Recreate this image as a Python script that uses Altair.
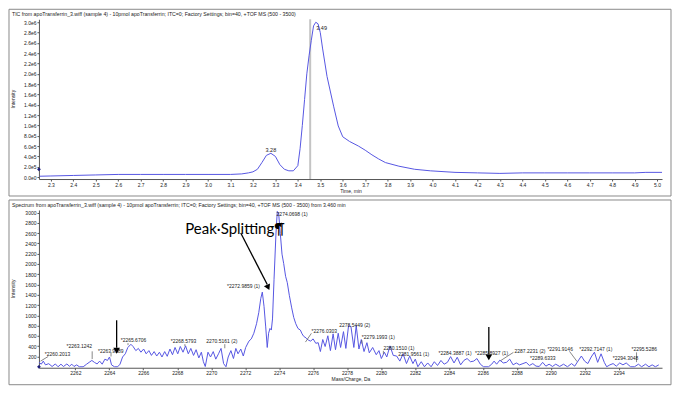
import altair as alt
import pandas as pd

# ---------------- data ----------------
tic_time = [2.25, 2.30, 2.40, 2.50, 2.60, 2.70, 2.80, 2.90, 3.00, 3.10, 3.15, 3.18, 3.20, 3.22,
            3.24, 3.26, 3.28, 3.30, 3.32, 3.34, 3.36, 3.38, 3.40, 3.41, 3.42, 3.43, 3.44, 3.45,
            3.46, 3.47, 3.48, 3.49, 3.50, 3.51, 3.53, 3.56, 3.58, 3.60, 3.63, 3.67, 3.70, 3.73,
            3.76, 3.79, 3.85, 3.92, 3.99, 4.10, 4.20, 4.30, 4.40, 4.50, 4.60, 4.70, 4.80, 4.90,
            4.95, 5.03]
tic_int = [15000, 20000, 30000, 40000, 50000, 50000, 50000, 50000, 50000, 50000, 60000, 80000,
           100000, 150000, 280000, 420000, 460000, 400000, 240000, 150000, 120000, 120000,
           220000, 550000, 1000000, 1500000, 2000000, 2350000, 2650000, 2930000, 3000000,
           2970000, 2800000, 2500000, 1950000, 1360000, 990000, 780000, 690000, 600000, 520000,
           430000, 350000, 280000, 210000, 150000, 120000, 90000, 80000, 70000, 80000, 80000,
           80000, 80000, 80000, 80000, 90000, 90000]

tic_ticks = [2.3, 2.4, 2.5, 2.6, 2.7, 2.8, 2.9, 3.0, 3.1, 3.2, 3.3, 3.4, 3.5, 3.6, 3.7, 3.8,
             3.9, 4.0, 4.1, 4.2, 4.3, 4.4, 4.5, 4.6, 4.7, 4.8, 4.9, 5.0]
tic_yticks = [0, 200000, 400000, 600000, 800000, 1000000, 1200000, 1400000, 1600000, 1800000,
              2000000, 2200000, 2400000, 2600000, 2800000, 3000000]
tic_peak_t = [3.28, 3.506]
tic_peak_i = [530000, 2890000]
tic_peak_txt = ["3.28", "3.49"]
cursor_t = [3.455]

spec_mz = [2259.76, 2259.86, 2259.99, 2260.11, 2260.24, 2260.43, 2260.63, 2260.82, 2260.98,
           2261.15, 2261.30, 2261.50, 2261.65, 2261.79, 2261.92, 2262.08, 2262.23, 2262.46,
           2262.66, 2262.81, 2262.97, 2263.12, 2263.28, 2263.43, 2263.58, 2263.74, 2263.89,
           2264.01, 2264.13, 2264.30, 2264.49, 2264.63, 2264.78, 2264.94, 2265.09, 2265.27,
           2265.40, 2265.56, 2265.71, 2265.86, 2266.02, 2266.17, 2266.33, 2266.48, 2266.64,
           2266.79, 2266.95, 2267.10, 2267.26, 2267.41, 2267.57, 2267.72, 2267.87, 2268.03,
           2268.18, 2268.34, 2268.49, 2268.65, 2268.80, 2268.96, 2269.11, 2269.27, 2269.42,
           2269.54, 2269.65, 2269.81, 2269.96, 2270.12, 2270.27, 2270.43, 2270.58, 2270.73,
           2270.87, 2271.00, 2271.16, 2271.31, 2271.45, 2271.58, 2271.74, 2271.89, 2272.03,
           2272.22, 2272.36, 2272.51, 2272.67, 2272.80, 2272.92, 2273.01, 2273.11, 2273.21,
           2273.30, 2273.38, 2273.46, 2273.54, 2273.61, 2273.70, 2273.81, 2273.89, 2273.97,
           2274.07, 2274.17, 2274.27, 2274.38, 2274.48, 2274.60, 2274.74, 2274.86, 2274.98,
           2275.11, 2275.25, 2275.35, 2275.45, 2275.59, 2275.72, 2275.86, 2276.00, 2276.16,
           2276.30, 2276.43, 2276.57, 2276.71, 2276.87, 2277.02, 2277.18, 2277.32, 2277.48,
           2277.62, 2277.79, 2277.93, 2278.09, 2278.23, 2278.40, 2278.54, 2278.70, 2278.84,
           2279.00, 2279.17, 2279.31, 2279.51, 2279.72, 2279.88, 2280.02, 2280.20, 2280.34,
           2280.53, 2280.72, 2280.92, 2281.11, 2281.30, 2281.50, 2281.69, 2281.88, 2282.02,
           2282.17, 2282.37, 2282.56, 2282.75, 2282.95, 2283.14, 2283.33, 2283.53, 2283.72,
           2283.91, 2284.10, 2284.30, 2284.49, 2284.69, 2284.88, 2285.07, 2285.27, 2285.46,
           2285.65, 2285.85, 2286.04, 2286.33, 2286.52, 2286.66, 2286.81, 2287.00, 2287.20,
           2287.39, 2287.58, 2287.78, 2287.97, 2288.16, 2288.36, 2288.55, 2288.74, 2288.94,
           2289.13, 2289.32, 2289.52, 2289.71, 2289.90, 2290.10, 2290.29, 2290.52, 2290.75,
           2290.98, 2291.22, 2291.41, 2291.60, 2291.80, 2291.99, 2292.18, 2292.38, 2292.57,
           2292.76, 2292.96, 2293.15, 2293.29, 2293.48, 2293.67, 2293.86, 2294.06, 2294.25,
           2294.44, 2294.70, 2294.93, 2295.16, 2295.35, 2295.58, 2295.78, 2295.97, 2296.16,
           2296.36]
spec_int = [25, 86, 50, 110, 37, 60, 5, 55, 0,
            50, 5, 55, 10, 50, 5, 37, 0, 0,
            50, 86, 123, 86, 55, 110, 50, 148, 123,
            190, 37, 0, 0, 50, 190, 252, 375, 437,
            394, 314, 357, 283, 345, 252, 314, 221, 295,
            209, 283, 190, 295, 203, 345, 234, 375, 252,
            394, 283, 406, 252, 357, 221, 332, 172, 283,
            98, 5, 283, 190, 295, 148, 252, 357, 62,
            0, 190, 314, 160, 357, 252, 345, 209, 375,
            498, 542, 652, 837, 1052, 1329, 1452, 1175, 775,
            375, 652, 745, 714, 930, 1700, 2560, 3021, 2990,
            2590, 2190, 2005, 1760, 1637, 1390, 1145, 960, 837,
            745, 714, 640, 591, 560, 517, 499, 542, 456,
            468, 296, 530, 394, 603, 314, 640, 332, 652,
            375, 683, 357, 800, 780, 375, 800, 345, 530,
            296, 468, 271, 375, 234, 314, 160, 283, 190,
            406, 221, 209, 110, 252, 62, 209, 62, 148,
            0, 98, 0, 74, 0, 98, 25, 123, 50,
            86, 197, 74, 185, 37, 123, 160, 98, 110,
            160, 50, 0, 0, 50, 110, 50, 129, 74,
            86, 148, 37, 74, 37, 62, 86, 25, 62,
            12, 6, 86, 12, 50, 6, 50, 6, 50,
            0, 62, 12, 110, 209, 110, 62, 190, 283,
            86, 252, 86, 0, 37, 62, 12, 74, 37,
            74, 0, 0, 50, 0, 50, 0, 37, 0,
            37]

spec_xticks = [2262, 2264, 2266, 2268, 2270, 2272, 2274, 2276, 2278, 2280, 2282, 2284, 2286,
               2288, 2290, 2292, 2294]
spec_yticks = [200, 400, 600, 800, 1000, 1200, 1400, 1600, 1800, 2000, 2200, 2400, 2600,
               2800, 3000]

lab_text = ["*2260.2013", "*2263.1242", "*2263.9589", "*2265.6706", "*2268.5793",
            "2270.5161 (2)", "*2272.9859 (1)", "2274.0698 (1)", "*2276.0303", "2278.5449 (2)",
            "*2279.1993 (1)", "2280.1510 (1)", "2281.9561 (1)", "*2284.3887 (1)",
            "*2285.8927 (1)", "2287.2231 (2)", "*2289.6333", "*2291.9146", "*2292.7147 (1)",
            "*2294.3048", "*2295.5286"]
lab_mz = [2260.20, 2261.48, 2263.33, 2264.67, 2267.62, 2269.71, 2270.93, 2273.85, 2275.91,
          2277.54, 2278.87, 2280.14, 2281.01, 2283.39, 2285.54, 2287.86, 2288.78, 2289.80,
          2291.68, 2293.65, 2294.75]
lab_int = [240, 406, 314, 517, 498, 498, 1569, 2975, 701, 812, 572, 369, 240, 258, 258, 314,
           166, 351, 351, 166, 351]

lead_x1 = [2260.40, 2262.99, 2264.10, 2265.10, 2268.45, 2270.80, 2275.90, 2278.87, 2280.14, 2287.80, 2291.10, 2295.05]
lead_y1 = [200, 300, 270, 460, 440, 440, 650, 520, 310, 280, 300, 280]
lead_x2 = [2259.95, 2262.99, 2264.10, 2265.10, 2268.45, 2270.80, 2275.55, 2278.87, 2280.14, 2287.05, 2291.55, 2295.05]
lead_y2 = [110, 150, 200, 420, 400, 360, 480, 450, 250, 120, 100, 90]

# arrows (annotation)
arrow_x1 = [2271.74, 2264.43, 2286.35]
arrow_y1 = [2600, 904, 775]
arrow_x2 = [2273.30, 2264.43, 2286.35]
arrow_y2 = [1600, 370, 240]
head_x = [2273.33, 2264.43, 2286.35]
head_y = [1560, 330, 200]
head_ang = [155, 180, 180]

# ---------------- layout ----------------
W = 624
H1 = 160
H2 = 158
FONT = "Liberation Sans"
BLUE = "#5656e2"
TXT = "#222222"
FRAME = "#8a8a8a"

one = pd.DataFrame({"k": [0]})

# ---------------- top panel: TIC ----------------
xs_top = alt.Scale(domain=[2.247, 5.022], nice=False, zero=False)
ys_top = alt.Scale(domain=[-39000, 3058000], nice=False, zero=False)

tic_df = pd.DataFrame({"t": tic_time, "I": tic_int})

tic_line = alt.Chart(tic_df).mark_line(color=BLUE, strokeWidth=1, clip=True).encode(
    x=alt.X("t:Q", scale=xs_top,
            axis=alt.Axis(values=tic_ticks, tickCount=200, format=".1f", title="Time, min",
                          labelPadding=1, titlePadding=1, labelOverlap=False, labelFlush=False)),
    y=alt.Y("I:Q", scale=ys_top,
            axis=alt.Axis(values=tic_yticks, tickCount=200, title=None, labelPadding=1,
                          labelOverlap=False, labelFlush=False,
                          labelExpr="datum.value == 0 ? '0.0e0' : (datum.value < 1000000 ? format(datum.value/100000, '.1f') + 'e5' : format(datum.value/1000000, '.1f') + 'e6')")),
)

cursor = alt.Chart(pd.DataFrame({"t": cursor_t})).mark_rule(color="#c4c4c4", strokeWidth=2).encode(
    x=alt.X("t:Q", scale=xs_top))

tic_labels = alt.Chart(pd.DataFrame({"t": tic_peak_t, "I": tic_peak_i, "s": tic_peak_txt})).mark_text(
    fontSize=5.5, font=FONT, color=TXT, align="center", baseline="middle").encode(
    x=alt.X("t:Q", scale=xs_top), y=alt.Y("I:Q", scale=ys_top), text="s:N")

top_star = alt.Chart(pd.DataFrame({"t": [2.247], "I": [150000]})).mark_point(
    shape="diamond", filled=True, color="#1c1c7a", size=14, opacity=1).encode(
    x=alt.X("t:Q", scale=xs_top), y=alt.Y("I:Q", scale=ys_top))

top_frame = alt.Chart(one).mark_rect(filled=False, stroke=FRAME, strokeWidth=1).encode(
    x=alt.value(-30), x2=alt.value(W + 9), y=alt.value(-10), y2=alt.value(H1 + 17))

top_title = alt.Chart(one).mark_text(fontSize=5.2, font=FONT, color=TXT, align="left",
                                     baseline="middle").encode(
    x=alt.value(-27), y=alt.value(-5),
    text=alt.value("TIC from apoTransferrin_3.wiff (sample 4) - 10pmol apoTransferrin; ITC=0; Factory Settings; bin=40, +TOF MS (500 - 3500)"))

top_ytitle = alt.Chart(one).mark_text(fontSize=5, font=FONT, color=TXT, angle=270,
                                      align="center", baseline="middle").encode(
    x=alt.value(-26), y=alt.value(H1 / 2), text=alt.value("Intensity"))

top = alt.layer(top_frame, cursor, tic_line, tic_labels, top_star, top_title, top_ytitle).properties(
    width=W, height=H1)

# ---------------- bottom panel: spectrum ----------------
xs_bot = alt.Scale(domain=[2259.855, 2296.55], nice=False, zero=False)
ys_bot = alt.Scale(domain=[-19, 3049], nice=False, zero=False)

spec_df = pd.DataFrame({"m": spec_mz, "I": spec_int})

spec_line = alt.Chart(spec_df).mark_line(color=BLUE, strokeWidth=1, clip=True).encode(
    x=alt.X("m:Q", scale=xs_bot,
            axis=alt.Axis(values=spec_xticks, tickCount=200, format="d", title="Mass/Charge, Da",
                          labelPadding=1, titlePadding=1, labelOverlap=False, labelFlush=False)),
    y=alt.Y("I:Q", scale=ys_bot,
            axis=alt.Axis(values=spec_yticks, tickCount=200, format="d", title=None,
                          labelPadding=1, labelOverlap=False, labelFlush=False)),
)

lead_df = pd.DataFrame({"x1": lead_x1, "y1": lead_y1, "x2": lead_x2, "y2": lead_y2})
leads = alt.Chart(lead_df).mark_rule(color="#555555", strokeWidth=0.7).encode(
    x=alt.X("x1:Q", scale=xs_bot), y=alt.Y("y1:Q", scale=ys_bot), x2="x2:Q", y2="y2:Q")

lab_df = pd.DataFrame({"m": lab_mz, "I": lab_int, "s": lab_text})
labels = alt.Chart(lab_df).mark_text(fontSize=5, font=FONT, color=TXT, align="left",
                                     baseline="middle").encode(
    x=alt.X("m:Q", scale=xs_bot), y=alt.Y("I:Q", scale=ys_bot), text="s:N")

arrow_df = pd.DataFrame({"x1": arrow_x1, "y1": arrow_y1, "x2": arrow_x2, "y2": arrow_y2})
arrows = alt.Chart(arrow_df).mark_rule(color="black", strokeWidth=1.3).encode(
    x=alt.X("x1:Q", scale=xs_bot), y=alt.Y("y1:Q", scale=ys_bot), x2="x2:Q", y2="y2:Q")

head_df = pd.DataFrame({"m": head_x, "I": head_y, "a": head_ang})
heads = alt.Chart(head_df).mark_point(shape="triangle", filled=True, color="black", size=45,
                                      opacity=1).encode(
    x=alt.X("m:Q", scale=xs_bot), y=alt.Y("I:Q", scale=ys_bot),
    angle=alt.Angle("a:Q", scale=None))

small_head = alt.Chart(pd.DataFrame({"m": [2274.06], "I": [2760]})).mark_point(
    shape="triangle", filled=True, color="black", size=22, opacity=1, angle=270).encode(
    x=alt.X("m:Q", scale=xs_bot), y=alt.Y("I:Q", scale=ys_bot))

peak_text = alt.Chart(pd.DataFrame({"m": [2271.40], "I": [2680], "s": ["Peak·Splitting¶"]})).mark_text(
    fontSize=15, font="Lato", color="black", align="center", baseline="middle").encode(
    x=alt.X("m:Q", scale=xs_bot), y=alt.Y("I:Q", scale=ys_bot), text="s:N")

bot_star = alt.Chart(pd.DataFrame({"m": [2259.855], "I": [0]})).mark_point(
    shape="diamond", filled=True, color="#1c1c7a", size=14, opacity=1).encode(
    x=alt.X("m:Q", scale=xs_bot), y=alt.Y("I:Q", scale=ys_bot))

bot_frame = alt.Chart(one).mark_rect(filled=False, stroke=FRAME, strokeWidth=1).encode(
    x=alt.value(-30), x2=alt.value(W + 9), y=alt.value(-10), y2=alt.value(H2 + 17))

bot_title = alt.Chart(one).mark_text(fontSize=5.2, font=FONT, color=TXT, align="left",
                                     baseline="middle").encode(
    x=alt.value(-27), y=alt.value(-5),
    text=alt.value("Spectrum from apoTransferrin_3.wiff (sample 4) - 10pmol apoTransferrin; ITC=0; Factory Settings; bin=40, +TOF MS (500 - 3500) from 3.460 min"))

bot_ytitle = alt.Chart(one).mark_text(fontSize=5, font=FONT, color=TXT, angle=270,
                                      align="center", baseline="middle").encode(
    x=alt.value(-26), y=alt.value(H2 / 2), text=alt.value("Intensity"))

bottom = alt.layer(bot_frame, spec_line, leads, labels, peak_text, arrows, heads, small_head,
                   bot_star, bot_title, bot_ytitle).properties(width=W, height=H2)

chart = alt.vconcat(top, bottom, spacing=2).properties(padding=0).configure_view(
    stroke=None).configure_axis(
    grid=False, domainColor="#555555", domainWidth=1, tickColor="#555555", tickSize=2,
    labelFont=FONT, labelFontSize=5, labelColor=TXT, titleFont=FONT, titleFontSize=5,
    titleFontWeight="normal", titleColor=TXT)

chart.save("out.html", embed_options={"renderer": "svg", "actions": False})
